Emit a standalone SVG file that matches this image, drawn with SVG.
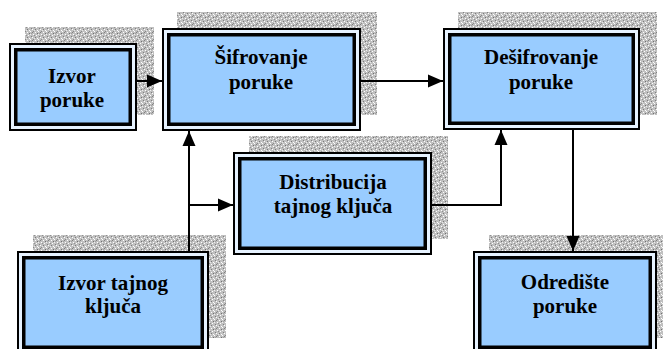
<svg xmlns="http://www.w3.org/2000/svg" width="663" height="349" viewBox="0 0 663 349">
<style>
.shadow{fill:url(#stipple);}
.outer{fill:#E6F2FF;stroke:#000;stroke-width:2;}
.inner{fill:#99CCFF;stroke:#000;stroke-width:3.5;}
.lbl{font-weight:bold;font-size:21px;fill:#000;text-anchor:middle;}
.conn{fill:none;stroke:#000;stroke-width:2;}
</style>
<defs>
<pattern id="stipple" width="8" height="8" patternUnits="userSpaceOnUse">
<rect width="8" height="8" fill="#c0c0c0"/>
<rect x="0" y="0" width="1" height="1" fill="#808080"/>
<rect x="3" y="0" width="1" height="1" fill="#ffffff"/>
<rect x="5" y="1" width="1" height="1" fill="#707070"/>
<rect x="1" y="2" width="1" height="1" fill="#ffffff"/>
<rect x="6" y="2" width="1" height="1" fill="#f0f0f0"/>
<rect x="2" y="3" width="1" height="1" fill="#909090"/>
<rect x="4" y="3" width="1" height="1" fill="#ffffff"/>
<rect x="7" y="4" width="1" height="1" fill="#808080"/>
<rect x="0" y="5" width="1" height="1" fill="#ffffff"/>
<rect x="3" y="5" width="1" height="1" fill="#7a7a7a"/>
<rect x="5" y="6" width="1" height="1" fill="#ffffff"/>
<rect x="1" y="7" width="1" height="1" fill="#8a8a8a"/>
<rect x="6" y="7" width="1" height="1" fill="#ffffff"/>
<rect x="2" y="6" width="1" height="1" fill="#e8e8e8"/>
<rect x="7" y="1" width="1" height="1" fill="#a0a0a0"/>
</pattern>
<marker id="arr" markerUnits="userSpaceOnUse" markerWidth="16" markerHeight="16" viewBox="0 0 16 16" refX="15" refY="8" orient="auto">
<path d="M0,1.5 L15,8 L0,14.5 Z" fill="#000"/>
</marker>
</defs>

<g id="shadows">
<rect class="shadow" x="25" y="27" width="129" height="88"/>
<rect class="shadow" x="177" y="12" width="200" height="103"/>
<rect class="shadow" x="458" y="12" width="199" height="103"/>
<rect class="shadow" x="249" y="136" width="199" height="103"/>
<rect class="shadow" x="33" y="235" width="193" height="103"/>
<rect class="shadow" x="489" y="235" width="184" height="103"/>
</g>

<g id="connectors">
<line class="conn" x1="137" y1="81" x2="162" y2="81" marker-end="url(#arr)"/>
<line class="conn" x1="361" y1="81" x2="443" y2="81" marker-end="url(#arr)"/>
<line class="conn" x1="189" y1="251" x2="189" y2="131" marker-end="url(#arr)"/>
<line class="conn" x1="189" y1="205" x2="233" y2="205" marker-end="url(#arr)"/>
<polyline class="conn" points="432,205 501,205 501,130" marker-end="url(#arr)"/>
<line class="conn" x1="573" y1="130" x2="573" y2="251" marker-end="url(#arr)"/>
</g>

<g font-family="'Liberation Serif', 'DejaVu Serif', serif">
<g id="izvor-poruke">
<rect class="outer" x="10" y="44" width="126" height="86"/>
<rect class="inner" x="15.75" y="49.75" width="114.5" height="74.5"/>
<text class="lbl" x="72" y="83">Izvor</text>
<text class="lbl" x="72" y="107">poruke</text>
</g>

<g id="sifrovanje">
<rect class="outer" x="163" y="29" width="197" height="101"/>
<rect class="inner" x="168.75" y="34.75" width="185.5" height="89.5"/>
<text class="lbl" x="261" y="64">Šifrovanje</text>
<text class="lbl" x="261" y="89">poruke</text>
</g>

<g id="desifrovanje">
<rect class="outer" x="444" y="29" width="195" height="100"/>
<rect class="inner" x="449.75" y="34.75" width="183.5" height="88.5"/>
<text class="lbl" x="541" y="64">Dešifrovanje</text>
<text class="lbl" x="541" y="89">poruke</text>
</g>

<g id="distribucija">
<rect class="outer" x="234" y="153" width="197" height="101"/>
<rect class="inner" x="239.75" y="158.75" width="185.5" height="89.5"/>
<text class="lbl" x="333" y="189">Distribucija</text>
<text class="lbl" x="333" y="213">tajnog ključa</text>
</g>

<g id="izvor-kljuca">
<rect class="outer" x="18" y="252" width="190" height="101"/>
<rect class="inner" x="23.75" y="257.75" width="178.5" height="89.5"/>
<text class="lbl" x="113" y="290">Izvor tajnog</text>
<text class="lbl" x="113" y="313">ključa</text>
</g>

<g id="odrediste">
<rect class="outer" x="474" y="252" width="182" height="101"/>
<rect class="inner" x="479.75" y="257.75" width="170.5" height="89.5"/>
<text class="lbl" x="565" y="289">Odredište</text>
<text class="lbl" x="565" y="313">poruke</text>
</g>
</g>
</svg>
